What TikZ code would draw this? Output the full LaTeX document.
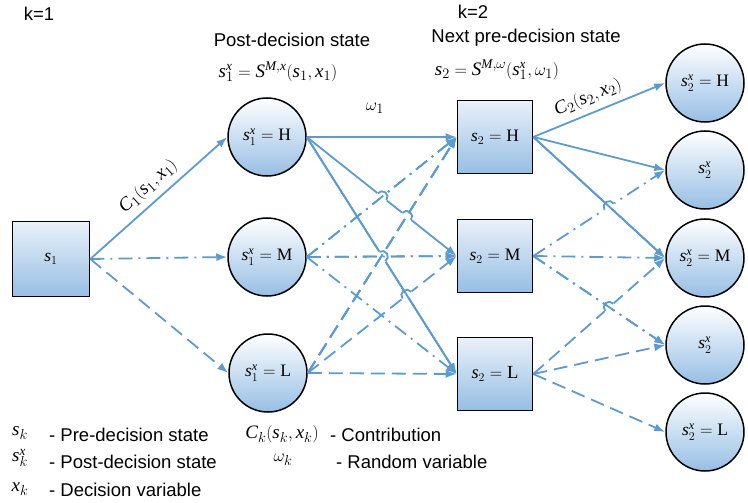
\documentclass[tikz,border=0pt]{standalone}
\usepackage{fontspec}
\setmainfont{Liberation Serif}
\setsansfont{Liberation Sans}
\usetikzlibrary{arrows.meta,intersections,calc}
\definecolor{ln}{RGB}{91,155,213}
\definecolor{cbot}{RGB}{150,190,228}
\definecolor{btop}{RGB}{234,241,249}
\newcommand\Vs{\mathit{s}}
\newcommand\Vx{\mathit{x}}
\newcommand\VC{\mathit{C}}
\newcommand\VS{\mathit{S}}
\newcommand\VM{\mathit{M}}
\tikzset{
 circ/.style={circle, draw=black, line width=1.5pt, minimum size=78pt, inner sep=0pt, top color=white, bottom color=cbot, font=\fontsize{17.5}{19}\selectfont},
 sq/.style={rectangle, draw=black, line width=1.6pt, minimum width=75pt, minimum height=73pt, inner sep=0pt, top color=btop, bottom color=cbot, font=\fontsize{17.5}{19}\selectfont},
 con/.style={draw=ln, line width=1.8pt, -{Latex[length=11pt,width=8pt]}},
 dd/.style={dash pattern=on 14pt off 6pt on 2pt off 6pt},
 ds/.style={dash pattern=on 14pt off 7pt},
 lbl/.style={font=\sffamily\fontsize{18.5}{20}\selectfont, inner sep=0pt},
 mth/.style={font=\fontsize{19}{21}\selectfont, inner sep=0pt},
}
\newcommand\hopgap[6]{%
 \path[name intersections={of=#1 and #2, by=hx}];
 \pgfmathanglebetweenpoints{\pgfpointanchor{#3}{#4}}{\pgfpointanchor{#5}{#6}}%
 \xdef\hopang{\pgfmathresult}%
 \fill[white, shift={(hx)}, rotate=\hopang] (-6pt,-2.4pt) rectangle (6pt,2.4pt);}
\newcommand\hoparc{%
 \draw[ln, line width=1.8pt, shift={(hx)}, rotate=\hopang] (-5.5pt,0pt) arc[start angle=180,end angle=0,radius=5.5pt];}
\begin{document}
\begin{tikzpicture}[x=1pt,y=-1pt]
\useasboundingbox (0,0) rectangle (748,503);
% nodes
\node[sq, minimum width=77pt, minimum height=75pt] (S1) at (51,259) {$\Vs_1$};
\node[circ] (H1) at (267,137) {$\Vs_1^{\Vx}=\mathrm{H}$};
\node[circ] (M1) at (267,257) {$\Vs_1^{\Vx}=\mathrm{M}$};
\node[circ] (L1) at (268,373) {$\Vs_1^{\Vx}=\mathrm{L}$};
\node[sq] (H2) at (495,137) {$\Vs_2=\mathrm{H}$};
\node[sq] (M2) at (495,256) {$\Vs_2=\mathrm{M}$};
\node[sq, font=\fontsize{18.5}{20}\selectfont] (L2) at (495,374) {$\Vs_2=\mathrm{L}$};
\node[circ] (C1) at (705,83) {$\Vs_2^{\Vx}=\mathrm{H}$};
\node[circ] (C2) at (705,170) {$\Vs_2^{\Vx}$};
\node[circ] (C3) at (705,258) {$\Vs_2^{\Vx}=\mathrm{M}$};
\node[circ] (C4) at (705,345) {$\Vs_2^{\Vx}$};
\node[circ] (C5) at (705,432) {$\Vs_2^{\Vx}=\mathrm{L}$};
% texts
\node[lbl] (k1) at (39,14) {k=1};
\node[lbl] (k2) at (473,12) {k=2};
\node[lbl] (post) at (292,40) {Post-decision state};
\node[mth] (postf) at (278,72) {$\Vs_1^{\Vx} = \VS^{\VM,\Vx}(\Vs_1,\Vx_1)$};
\node[lbl] (next) at (526,38) {Next pre-decision state};
\node[mth] (nextf) at (497,70) {$\Vs_2 = \VS^{\VM,\omega}(\Vs_1^{\Vx},\omega_1)$};
\node[mth] (om) at (375,108) {$\omega_1$};
% legend
\node[mth] (lg1) at (20,433) {$\Vs_k$};
\node[lbl, anchor=west] (lt1) at (49,435) {- Pre-decision state};
\node[mth] (lg2) at (20,458) {$\Vs_k^{\Vx}$};
\node[lbl, anchor=west] (lt2) at (49,462) {- Post-decision state};
\node[mth] (lg3) at (20,489) {$\Vx_k$};
\node[lbl, anchor=west] (lt3) at (49,490) {- Decision variable};
\node[mth] (lg4) at (282,434) {$\VC_k(\Vs_k,\Vx_k)$};
\node[lbl, anchor=west] (lt4) at (330,435) {- Contribution};
\node[mth] (lg5) at (283,460) {$\omega_k$};
\node[lbl, anchor=west] (lt5) at (336,462) {- Random variable};
% stage 1 connectors
\draw[con] (S1.east) -- node[midway, sloped, above=6pt, mth]{$\VC_1(\Vs_1,\Vx_1)$} (H1.west);
\draw[con,dd] (S1.east) -- (M1.west);
\draw[con,ds] (S1.east) -- (L1.west);
\def\lHH{\draw[con, name path=hh] (H1.east) -- (H2.west);}
\def\lHM{\draw[con, name path=hm] (H1.east) -- (M2.west);}
\def\lHL{\draw[con, name path=hl] (H1.east) -- (L2.west);}
\def\lMH{\draw[con,dd, name path=mh] (M1.east) -- (H2.west);}
\def\lMM{\draw[con,dd, name path=mm] (M1.east) -- (M2.west);}
\def\lML{\draw[con,dd, name path=ml] (M1.east) -- (L2.west);}
\def\lLH{\draw[con,ds, name path=lh] (L1.east) -- (H2.west);}
\def\lLM{\draw[con,ds, name path=lm] (L1.east) -- (M2.west);}
\def\lLL{\draw[con,ds, name path=ll] (L1.east) -- (L2.west);}
\lMH \lMM \lML \lLH \lLM \lLL \lHH \lHM \lHL
% hops stage 1
\hopgap{lm}{hl}{L1}{east}{M2}{west}\lHL\hoparc
\hopgap{hl}{mm}{H1}{east}{L2}{west}\lMM\lLH\hoparc
\hopgap{hm}{mh}{H1}{east}{M2}{west}\lMH\hoparc
\hopgap{hm}{lh}{H1}{east}{M2}{west}\lLH\hoparc
% stage 2 connectors
\draw[con, name path=a1] (H2.east) -- node[pos=0.46, sloped, above=6pt, mth]{$\VC_2(\Vs_2,\Vx_2)$} (C1.west);
\draw[con, name path=a2] (H2.east) -- (C2.west);
\def\lAC{\draw[con, name path=a3] (H2.east) -- (C3.west);}
\def\lBB{\draw[con,dd, name path=b2] (M2.east) -- (C2.west);}
\draw[con,dd, name path=b3] (M2.east) -- (C3.west);
\def\lBD{\draw[con,dd, name path=b4] (M2.east) -- (C4.west);}
\def\lCC{\draw[con,ds, name path=c3] (L2.east) -- (C3.west);}
\draw[con,ds, name path=c4] (L2.east) -- (C4.west);
\draw[con,ds, name path=c5] (L2.east) -- (C5.west);
\lAC \lBB \lBD \lCC
\hopgap{b2}{a3}{M2}{east}{C2}{west}\lAC\hoparc
\hopgap{c3}{b4}{L2}{east}{C3}{west}\lBD\hoparc
\end{tikzpicture}
\end{document}
